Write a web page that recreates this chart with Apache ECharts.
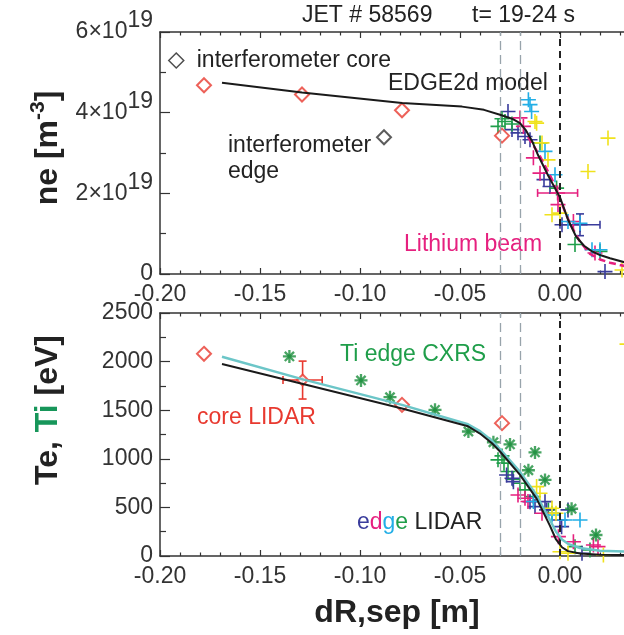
<!DOCTYPE html>
<html><head><meta charset="utf-8">
<script src="https://cdn.jsdelivr.net/npm/echarts@6/dist/echarts.min.js"></script>
<style>html,body{margin:0;padding:0;background:#fff}#c{width:624px;height:635px}</style>
</head><body><div id="c"></div>
<script>
// ---------------- DATA ----------------
// x: dR,sep [m]; ne in units of 1e19 m^-3; Te/Ti in eV
const xTickValues = [-0.20, -0.15, -0.10, -0.05, 0.00];
const sepLinesGray = [-0.027, -0.0195];
const sepLineBlack = [0.0];

// top panel (ne)
const neModel = [[-0.169,4.74],[-0.129,4.50],[-0.079,4.24],[-0.049,4.15],[-0.038,4.07],[-0.030,3.95],[-0.024,3.85],[-0.020,3.74],[-0.017,3.56],[-0.014,3.30],[-0.011,2.95],[-0.006,2.45],[0.000,1.90],[0.004,1.35],[0.008,0.93],[0.012,0.70],[0.016,0.56],[0.020,0.47],[0.025,0.39],[0.033,0.28]];
const neLiFit = [[-0.016,3.40],[-0.010,2.92],[-0.004,2.35],[0.000,1.85],[0.005,1.25],[0.010,0.80],[0.015,0.50],[0.020,0.36],[0.025,0.28],[0.033,0.19]];
const neIfRed = [[-0.178,4.68],[-0.129,4.45],[-0.079,4.06],[-0.029,3.43]];
const neIfEdge = [[-0.088,3.39]];
const neIfCore = [];
const neNavy = [[-0.026,4.03],[-0.024,3.58],[-0.021,3.50],[-0.0175,3.41],[-0.015,3.33],[-0.008,2.34],[-0.005,2.17],[0.001,1.22],[0.010,1.22],[0.0225,0.06]];
const neGreen = [[-0.031,3.66],[-0.0275,3.78],[-0.029,3.85],[-0.024,3.72],[-0.010,3.25],[-0.0017,2.13],[0.0075,0.73],[0.020,0.56]];
const neMagenta = [[-0.020,3.87],[-0.0183,3.66],[-0.0133,2.88],[-0.010,2.50],[-0.0012,2.01],[-0.001,1.72],[0.0067,1.30],[0.0175,0.52]];
const neCyan = [[-0.0158,4.32],[-0.015,4.20],[-0.0142,4.03],[-0.0075,3.04],[-0.0025,2.46],[0.004,1.30],[0.010,1.26],[0.016,0.60],[0.020,0.60]];
const neYellow = [[-0.0125,3.78],[-0.0117,3.74],[-0.009,3.25],[-0.006,2.83],[-0.004,1.47],[0.000,1.51],[0.014,2.54],[0.024,3.37],[0.031,0.10]];
// error bars: [x, y, xErr, yErr]
const neErrNavy = [[0.010,1.22,0.010,0.27]];
const neErrMagenta = [[-0.0012,2.01,0.010,0]];

// bottom panel (Te, Ti)
const teModel = [[-0.169,1975],[-0.129,1772],[-0.079,1517],[-0.046,1335],[-0.040,1260],[-0.034,1160],[-0.030,1075],[-0.020,834],[-0.0117,590],[-0.005,310],[-0.002,170],[0.001,90],[0.004,50],[0.010,25],[0.020,12],[0.033,10]];
const tiModel = [[-0.169,2050],[-0.129,1820],[-0.079,1555],[-0.046,1355],[-0.040,1285],[-0.034,1185],[-0.030,1100],[-0.020,865],[-0.0117,625],[-0.005,370],[-0.002,250],[0.001,170],[0.004,125],[0.010,82],[0.020,55],[0.033,45]];
const teRed = [[-0.178,2080],[-0.079,1555],[-0.029,1367]];
const teCoreLidar = [[-0.1287,1810]];
const teCoreLidarErr = [[-0.1287,1810,0.0098,195]];
const tiCxrs = [[-0.1353,2053],[-0.0995,1806],[-0.085,1634],[-0.0625,1504],[-0.0458,1281],[-0.0333,1170],[-0.025,1148],[-0.0125,1066],[-0.0158,882],[-0.0075,783],[0.0058,486],[0.018,216]];
const teGreen = [[-0.031,989],[-0.028,955],[-0.029,1030],[-0.026,870],[-0.0235,790],[-0.020,749],[-0.0175,680],[-0.0133,611],[-0.0058,474],[-0.004,440],[0.0075,96],[0.015,62]];
const teNavy = [[-0.0267,834],[-0.024,800],[-0.0233,765],[-0.015,559],[-0.0125,508],[-0.0075,559],[-0.0067,474],[0.000,371],[0.0008,302],[0.004,474],[0.011,28]];
const teMagenta = [[-0.021,628],[-0.0175,594],[-0.016,560],[-0.009,440],[-0.0008,199],[0.0067,147],[0.0167,113],[0.019,96]];
const teCyan = [[-0.0133,560],[-0.004,422],[0.0025,371],[0.010,371]];
const teYellow = [[-0.0117,714],[-0.010,646],[-0.004,491],[-0.002,440],[0.000,44],[0.004,28],[0.0217,10],[0.0335,2180]];

// ---------------- STYLE ----------------
const FONT = "'Liberation Sans', Arial, Helvetica, sans-serif";
const C = {navy:'#3a3c9c', green:'#1f9e4a', magenta:'#e6207f', cyan:'#22aee6', yellow:'#f0e21c',
           red:'#e8392f', dkgreen:'#1c8f3c', text:'#222', axis:'#333', gray:'#98a4ab', teal:'#6cc6c8'};
const PLUS = 'path://M12.5,0h3v12.5h12.5v3h-12.5v12.5h-3v-12.5h-12.5v-3h12.5z';
const PLUS_THICK = 'path://M11.5,0h5v11.5h11.5v5h-11.5v11.5h-5v-11.5h-11.5v-5h11.5z';

function fmtX(v){
  const k = Math.round(v*20);
  if (Math.abs(v*20-k) > 1e-6) return '';
  return (k===0 ? 0 : k/20).toFixed(2);
}
function xAx(grid, pos, showLabel){
  return {type:'value', gridIndex:grid, position:pos, min:-0.2, max:0.05, interval:0.05,
    axisLine:{show:true, onZero:false, lineStyle:{color:C.axis, width:1.5}},
    axisTick:{show:true, inside:true, length:6, lineStyle:{color:C.axis, width:1.2}},
    minorTick:{show:true, splitNumber:5, length:3.5, lineStyle:{color:C.axis, width:1.2}},
    splitLine:{show:false}, minorSplitLine:{show:false},
    axisLabel:{show:showLabel, margin:9, fontSize:23, color:C.axis, fontFamily:FONT, formatter:fmtX}
  };
}
function yAx(grid, max, interval, rich, fmt){
  return {type:'value', gridIndex:grid, position:'left', min:0, max:max, interval:interval,
    axisLine:{show:true, onZero:false, lineStyle:{color:C.axis, width:1.5}},
    axisTick:{show:true, inside:true, length:10, lineStyle:{color:C.axis, width:1.2}},
    minorTick:{show:true, splitNumber:2, length:6, lineStyle:{color:C.axis, width:1.2}},
    splitLine:{show:false}, minorSplitLine:{show:false},
    axisLabel:{margin:7, fontSize:23, color:C.axis, fontFamily:FONT, formatter:fmt, rich:rich}
  };
}
function errRender(params, api){
  const x=api.value(0), y=api.value(1), dx=api.value(2), dy=api.value(3);
  const col = api.visual('color');
  const st = {stroke:col, lineWidth:1.6};
  const ch = [];
  const cap = 4;
  if (dx>0){
    const l=api.coord([x-dx,y]), r=api.coord([x+dx,y]);
    ch.push({type:'line', shape:{x1:l[0],y1:l[1],x2:r[0],y2:r[1]}, style:st});
    ch.push({type:'line', shape:{x1:l[0],y1:l[1]-cap,x2:l[0],y2:l[1]+cap}, style:st});
    ch.push({type:'line', shape:{x1:r[0],y1:r[1]-cap,x2:r[0],y2:r[1]+cap}, style:st});
  }
  if (dy>0){
    const t=api.coord([x,y+dy]), b=api.coord([x,y-dy]);
    ch.push({type:'line', shape:{x1:t[0],y1:t[1],x2:b[0],y2:b[1]}, style:st});
    ch.push({type:'line', shape:{x1:t[0]-cap,y1:t[1],x2:t[0]+cap,y2:t[1]}, style:st});
    ch.push({type:'line', shape:{x1:b[0]-cap,y1:b[1],x2:b[0]+cap,y2:b[1]}, style:st});
  }
  return {type:'group', children:ch};
}
function errSeries(name, data, color, xi, yi){
  return {type:'custom', name:name, xAxisIndex:xi, yAxisIndex:yi, data:data, encode:{x:0,y:1},
          itemStyle:{color:color}, renderItem:errRender, clip:false, z:3};
}
function crosses(name, data, color, xi, yi){
  return {type:'scatter', name:name, xAxisIndex:xi, yAxisIndex:yi, data:data, symbol:PLUS, symbolSize:15,
          itemStyle:{color:color, opacity:1}, clip:false, z:3};
}
function markLines(){
  const d = [];
  sepLinesGray.forEach(v => d.push({xAxis:v, lineStyle:{color:C.gray, type:[9,5], width:1.3}}));
  sepLineBlack.forEach(v => d.push({xAxis:v, lineStyle:{color:'#222', type:[7,5], width:2}}));
  return {silent:true, symbol:['none','none'], label:{show:false}, animation:false, data:d};
}

const chart = echarts.init(document.getElementById('c'), null, {renderer:'canvas'});
const option = {
  animation:false,
  backgroundColor:'#fff',
  textStyle:{fontFamily:FONT},
  grid:[{left:160, top:32, width:500, height:242, outerBoundsMode:'none', containLabel:false},
        {left:160, top:313, width:500, height:243, outerBoundsMode:'none', containLabel:false}],
  xAxis:[xAx(0,'bottom',true), xAx(0,'top',false), xAx(1,'bottom',true), xAx(1,'top',false)],
  yAxis:[
    yAx(0, 6, 2, {a:{fontSize:23, color:C.axis, fontFamily:FONT}, s:{fontSize:23, color:C.axis, fontFamily:FONT, padding:[0,0,22,0]}},
        v => v===0 ? '0' : '{a|' + v + '×10}{s|19}'),
    yAx(1, 2500, 500, null, v => String(v))
  ],
  legend:{left:163, top:44, itemWidth:15, itemHeight:15, icon:'diamond', selectedMode:false,
    data:[{name:'interferometer core', itemStyle:{color:'#fff', borderColor:'#222', borderWidth:1.5}}],
    textStyle:{fontSize:23, color:C.text, fontFamily:FONT, padding:[0,0,0,8]}},
  graphic:[
    {type:'text', left:302, top:4, style:{text:'JET # 58569', font:'23px '+FONT, fill:C.text}},
    {type:'text', left:472, top:4, style:{text:'t= 19-24 s', font:'23px '+FONT, fill:C.text}},
    {type:'text', x:388, y:84, style:{text:'EDGE2d model', font:'23px '+FONT, fill:C.text, textVerticalAlign:'middle'}},
    {type:'text', x:228, y:146, style:{text:'interferometer', font:'23px '+FONT, fill:C.text, textVerticalAlign:'middle'}},
    {type:'text', x:228, y:172, style:{text:'edge', font:'23px '+FONT, fill:C.text, textVerticalAlign:'middle'}},
    {type:'text', x:404, y:245, style:{text:'Lithium beam', font:'23px '+FONT, fill:C.magenta, textVerticalAlign:'middle'}},
    {type:'text', x:340, y:355, style:{text:'Ti edge CXRS', font:'23px '+FONT, fill:C.green, textVerticalAlign:'middle'}},
    {type:'text', x:197, y:418, style:{text:'core LIDAR', font:'23px '+FONT, fill:C.red, textVerticalAlign:'middle'}},
    {type:'text', x:357, y:523, style:{text:'{n|e}{m|d}{c|g}{g|e}{k| LIDAR}', textVerticalAlign:'middle',
      rich:{n:{fill:C.navy, font:'23px '+FONT}, m:{fill:C.magenta, font:'23px '+FONT}, c:{fill:C.cyan, font:'23px '+FONT},
            g:{fill:C.green, font:'23px '+FONT}, k:{fill:C.text, font:'23px '+FONT}}}},
    {type:'text', x:397, y:613, style:{text:'dR,sep [m]', font:'bold 32px '+FONT, fill:C.text, textAlign:'center', textVerticalAlign:'middle'}},
    {type:'text', x:48, y:148, rotation:Math.PI/2, style:{text:'{a|ne [m}{s|-3}{a|]}', textAlign:'center', textVerticalAlign:'middle',
      rich:{a:{font:'bold 32px '+FONT, fill:C.text}, s:{font:'bold 21px '+FONT, fill:C.text, padding:[0,0,20,0]}}}},
    {type:'text', x:48, y:410, rotation:Math.PI/2, style:{text:'{a|Te, }{g|Ti}{a| [eV]}', textAlign:'center', textVerticalAlign:'middle',
      rich:{a:{font:'bold 32px '+FONT, fill:C.text}, g:{font:'bold 32px '+FONT, fill:'#17965a'}}}}
  ],
  series:[
    // ---- top panel ----
    errSeries('Li err navy', neErrNavy, C.navy, 0, 0),
    errSeries('Li err magenta', neErrMagenta, C.magenta, 0, 0),
    crosses('ne navy', neNavy, C.navy, 0, 0),
    crosses('ne green', neGreen, C.green, 0, 0),
    crosses('ne magenta', neMagenta, C.magenta, 0, 0),
    crosses('ne cyan', neCyan, C.cyan, 0, 0),
    crosses('ne yellow', neYellow, C.yellow, 0, 0),
    {type:'scatter', name:'interferometer (red)', xAxisIndex:0, yAxisIndex:0, data:neIfRed, symbol:'emptyDiamond', symbolSize:14,
      itemStyle:{color:C.red, borderColor:C.red, borderWidth:1.5}, z:4},
    {type:'scatter', name:'interferometer edge', xAxisIndex:0, yAxisIndex:0, data:neIfEdge, symbol:'emptyDiamond', symbolSize:14,
      itemStyle:{color:'#333', borderColor:'#333', borderWidth:1.5}, z:4},
    {type:'scatter', name:'interferometer core', xAxisIndex:0, yAxisIndex:0, data:neIfCore, symbol:'emptyDiamond', symbolSize:14,
      itemStyle:{color:'#222', borderColor:'#222', borderWidth:1.5}},
    {type:'line', name:'Lithium beam fit', xAxisIndex:0, yAxisIndex:0, data:neLiFit, showSymbol:false, smooth:false,
      lineStyle:{color:C.magenta, width:2.5, type:[7,4]}, z:4},
    {type:'line', name:'EDGE2d model', xAxisIndex:0, yAxisIndex:0, data:neModel, showSymbol:false, smooth:false,
      lineStyle:{color:'#1a1a1a', width:2}, z:5, markLine:markLines()},
    // ---- bottom panel ----
    errSeries('core LIDAR err', teCoreLidarErr, C.red, 2, 1),
    crosses('te green', teGreen, C.green, 2, 1),
    crosses('te navy', teNavy, C.navy, 2, 1),
    crosses('te magenta', teMagenta, C.magenta, 2, 1),
    crosses('te cyan', teCyan, C.cyan, 2, 1),
    crosses('te yellow', teYellow, C.yellow, 2, 1),
    {type:'scatter', name:'Ti CXRS a', xAxisIndex:2, yAxisIndex:1, data:tiCxrs, symbol:PLUS_THICK, symbolSize:13,
      itemStyle:{color:C.dkgreen}, z:4},
    {type:'scatter', name:'Ti CXRS b', xAxisIndex:2, yAxisIndex:1, data:tiCxrs, symbol:PLUS_THICK, symbolSize:13, symbolRotate:45,
      itemStyle:{color:C.dkgreen}, z:4},
    {type:'scatter', name:'Te red', xAxisIndex:2, yAxisIndex:1, data:teRed, symbol:'emptyDiamond', symbolSize:14,
      itemStyle:{color:C.red, borderColor:C.red, borderWidth:1.5}, z:4},
    {type:'scatter', name:'core LIDAR', xAxisIndex:2, yAxisIndex:1, data:teCoreLidar, symbol:'emptyDiamond', symbolSize:11,
      itemStyle:{color:C.red, borderColor:C.red, borderWidth:1.3}, z:4},
    {type:'line', name:'Ti model', xAxisIndex:2, yAxisIndex:1, data:tiModel, showSymbol:false, smooth:false,
      lineStyle:{color:C.teal, width:2.5}, z:5},
    {type:'line', name:'Te model', xAxisIndex:2, yAxisIndex:1, data:teModel, showSymbol:false, smooth:false,
      lineStyle:{color:'#1a1a1a', width:2}, z:6, markLine:markLines()}
  ]
};
chart.setOption(option);
</script></body></html>
